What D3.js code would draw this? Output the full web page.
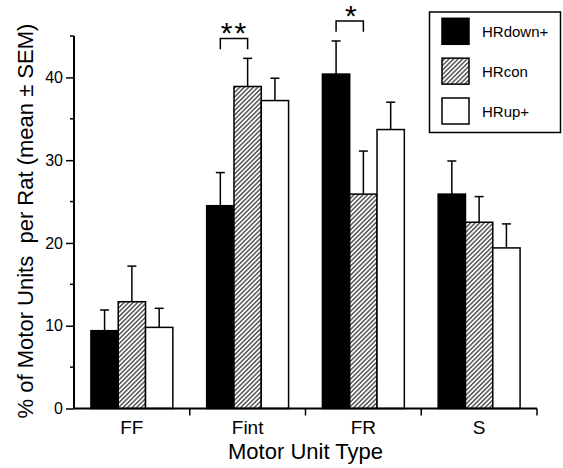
<!DOCTYPE html>
<html>
<head>
<meta charset="utf-8">
<script src="https://cdn.jsdelivr.net/npm/d3@7"></script>
<style>
  html, body { margin: 0; padding: 0; background: #fff; }
  svg { display: block; font-family: "Liberation Sans", Arial, sans-serif; }
</style>
</head>
<body>
<div id="chart"></div>
<script>
// grouped bars with upward SEM whiskers, hatched control series
const categories = ["FF", "Fint", "FR", "S"];
const series = ["HRdown+", "HRcon", "HRup+"];
const means = {
  "HRdown+": [9.4, 24.5, 40.4, 25.9],
  "HRcon":   [12.9, 38.9, 25.9, 22.5],
  "HRup+":   [9.8, 37.2, 33.7, 19.4]
};
const sems = {
  "HRdown+": [2.5, 4.0, 4.0, 4.0],
  "HRcon":   [4.3, 3.4, 5.2, 3.1],
  "HRup+":   [2.3, 2.7, 3.3, 2.9]
};
const yTicks = [0, 10, 20, 30, 40];
const yMinor = [5, 15, 25, 35, 45];
const sig = [
  { cat: "Fint", a: "HRdown+", b: "HRcon", label: "**" },
  { cat: "FR",   a: "HRdown+", b: "HRcon", label: "*" }
];

const W = 563, H = 468;
const M = { left: 74, right: 26, top: 36, bottom: 59.5 };

const svg = d3.select("#chart").append("svg")
  .attr("width", W).attr("height", H);

const defs = svg.append("defs");
defs.append("pattern")
  .attr("id", "hatch").attr("patternUnits", "userSpaceOnUse")
  .attr("width", 3.2).attr("height", 3.2)
  .attr("patternTransform", "rotate(45)")
  .call(p => {
    p.append("rect").attr("width", 3.2).attr("height", 3.2).attr("fill", "#fff");
    p.append("line").attr("x1", 0.8).attr("y1", 0).attr("x2", 0.8).attr("y2", 3.2)
      .attr("stroke", "#000").attr("stroke-width", 1);
  });

const fillOf = s => s === "HRdown+" ? "#000" : s === "HRcon" ? "url(#hatch)" : "#fff";

const x = d3.scaleBand().domain(categories).range([M.left, W - M.right]).padding(0);
const xs = d3.scaleBand().domain(series).range([0, x.bandwidth()])
  .paddingInner(0).paddingOuter(0.62);
const y = d3.scaleLinear().domain([0, 45]).range([H - M.bottom, M.top]);

const rows = [];
series.forEach(s => categories.forEach((c, i) =>
  rows.push({ s, c, v: means[s][i], e: sems[s][i] })));

// bars
svg.append("g").selectAll("rect").data(rows).join("rect")
  .attr("x", d => x(d.c) + xs(d.s))
  .attr("y", d => y(d.v))
  .attr("width", xs.bandwidth())
  .attr("height", d => y(0) - y(d.v))
  .attr("fill", d => fillOf(d.s))
  .attr("stroke", "#000").attr("stroke-width", 1.5);

// error whiskers
const cx = d => x(d.c) + xs(d.s) + xs.bandwidth() / 2;
const eb = svg.append("g").attr("stroke", "#000").attr("stroke-width", 1.5);
eb.selectAll(".v").data(rows).join("line")
  .attr("x1", cx).attr("x2", cx)
  .attr("y1", d => y(d.v)).attr("y2", d => y(d.v + d.e));
eb.selectAll(".c").data(rows).join("line")
  .attr("x1", d => cx(d) - 4.5).attr("x2", d => cx(d) + 4.5)
  .attr("y1", d => y(d.v + d.e)).attr("y2", d => y(d.v + d.e));

// y axis
const yAxis = svg.append("g").attr("transform", `translate(${M.left},0)`)
  .call(d3.axisLeft(y).tickValues(yTicks).tickSize(8).tickPadding(3).tickFormat(d3.format("d")));
yAxis.select(".domain").attr("stroke-width", 2).attr("d", `M0,${y(45)}V${y(0)}`);
yAxis.selectAll(".tick line").attr("stroke-width", 1.5);
yAxis.selectAll("text").attr("font-size", 16).attr("fill", "#000");
yAxis.append("g").selectAll("line").data(yMinor).join("line")
  .attr("x1", -4).attr("x2", 0).attr("y1", d => y(d)).attr("y2", d => y(d))
  .attr("stroke", "#000").attr("stroke-width", 1.5);

// x axis
const xAxis = svg.append("g").attr("transform", `translate(0,${y(0)})`)
  .call(d3.axisBottom(x).tickSize(0).tickPadding(12));
xAxis.select(".domain").attr("stroke-width", 2).attr("d", `M${M.left},0H${W - M.right}`);
xAxis.selectAll("text").attr("font-size", 19).attr("fill", "#000");
xAxis.append("g").selectAll("line").data(categories).join("line")
  .attr("x1", d => x(d) + x.bandwidth()).attr("x2", d => x(d) + x.bandwidth())
  .attr("y1", 0).attr("y2", 7)
  .attr("stroke", "#000").attr("stroke-width", 1.5);

// axis titles
svg.append("text")
  .attr("transform", "translate(33,221) rotate(-90)")
  .attr("text-anchor", "middle").attr("font-size", 22)
  .text("% of Motor Units\u00a0 per Rat (mean \u00b1 SEM)");
svg.append("text")
  .attr("x", (M.left + W - M.right) / 2).attr("y", 459)
  .attr("text-anchor", "middle").attr("font-size", 22)
  .text("Motor Unit Type");

// significance brackets
const sg = svg.append("g");
sig.forEach(d => {
  const i = categories.indexOf(d.cat);
  const hi = Math.max(means[d.a][i] + sems[d.a][i], means[d.b][i] + sems[d.b][i]);
  const x1 = x(d.cat) + xs(d.a) + xs.bandwidth() / 2;
  const x2 = x(d.cat) + xs(d.b) + xs.bandwidth() / 2;
  const leg = y(hi + 1.1), bar = y(hi + 2.4);
  sg.append("path")
    .attr("d", `M${x1},${leg}V${bar}H${x2}V${leg}`)
    .attr("fill", "none").attr("stroke", "#000").attr("stroke-width", 1.5);
  sg.append("text")
    .attr("x", (x1 + x2) / 2 + (d.label.length > 1 ? 0.5 : 1)).attr("y", bar + 5)
    .attr("text-anchor", "middle").attr("font-size", 30)
    .attr("letter-spacing", d.label.length > 1 ? 2 : 0)
    .text(d.label);
});

// legend
const lg = svg.append("g");
lg.append("rect").attr("x", 429.5).attr("y", 12).attr("width", 131).attr("height", 120.5)
  .attr("fill", "#fff").attr("stroke", "#000").attr("stroke-width", 1.5);
const ly = d3.scalePoint().domain(series).range([31.3, 111]);
series.forEach(s => {
  lg.append("rect").attr("x", 442).attr("y", ly(s) - 13).attr("width", 27).attr("height", 26)
    .attr("fill", fillOf(s)).attr("stroke", "#000").attr("stroke-width", 1.5);
  lg.append("text").attr("x", 482).attr("y", ly(s) + 5.5)
    .attr("font-size", 15).text(s);
});
</script>
</body>
</html>
